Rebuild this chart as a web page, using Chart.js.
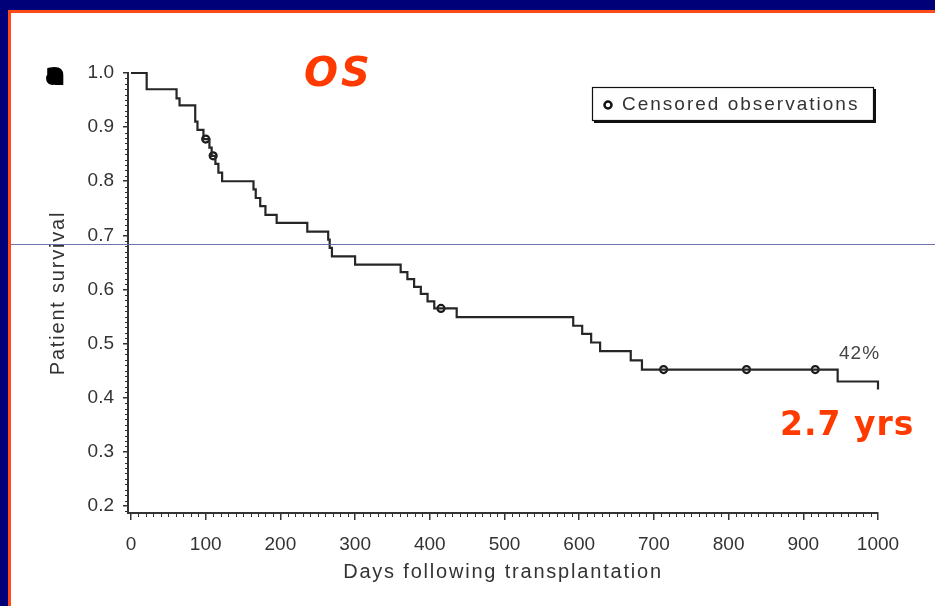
<!DOCTYPE html>
<html>
<head>
<meta charset="utf-8">
<script src="https://cdn.jsdelivr.net/npm/chart.js@4.4.1/dist/chart.umd.min.js"></script>
<style>
html, body { margin: 0; padding: 0; background: #fff; }
#wrap { position: relative; width: 935px; height: 606px; overflow: hidden; }
</style>
</head>
<body>
<div id="wrap"><canvas id="osChart" width="935" height="606"></canvas></div>
<script>
// Kaplan-Meier overall survival: day of each event and survival right after it
const eventDays = [0, 21, 61, 65, 86, 89, 97, 105, 108, 113, 117, 122, 164, 167, 173, 180,
  195, 236, 264, 266, 269, 300, 361, 370, 379, 388, 397, 406, 436, 592, 604, 616, 628,
  669, 684, 946, 1000];
const survival = [1.0, 0.970, 0.953, 0.940, 0.910, 0.895, 0.878, 0.862, 0.847, 0.832, 0.816,
  0.800, 0.785, 0.769, 0.754, 0.738, 0.723, 0.707, 0.692, 0.677, 0.661, 0.646, 0.632, 0.619,
  0.605, 0.592, 0.578, 0.565, 0.549, 0.533, 0.518, 0.502, 0.486, 0.469, 0.452, 0.430, 0.415];

// censored patients (marked with open circles)
const censorDays = [100, 110, 415, 713, 824, 916];
const censorSurv = [0.878, 0.847, 0.565, 0.452, 0.452, 0.452];

const xTicks = [0, 100, 200, 300, 400, 500, 600, 700, 800, 900, 1000];
const yTicks = [0.2, 0.3, 0.4, 0.5, 0.6, 0.7, 0.8, 0.9, 1.0];

const FONT = '"Liberation Sans", Arial, Helvetica, sans-serif';
const RED = '#ff3a00';
const INK = '#333';

const slidePlugin = {
  id: 'slide',
  beforeDraw(chart) {
    const c = chart.ctx;
    c.save();
    c.fillStyle = '#fff';
    c.fillRect(0, 0, chart.width, chart.height);
    // slide frame: navy band top and left, thin orange rule inside
    c.fillStyle = '#000078';
    c.fillRect(0, 0, chart.width, 10);
    c.fillRect(0, 0, 8, chart.height);
    c.fillStyle = '#ff4a1a';
    c.fillRect(8, 10, chart.width, 3);
    c.fillRect(8, 10, 3, chart.height);
    c.restore();
  },
  afterDraw(chart) {
    const c = chart.ctx;
    const x = chart.scales.x, y = chart.scales.y;
    const area = chart.chartArea;
    c.save();

    // minor tick marks
    c.strokeStyle = INK;
    c.lineWidth = 1;
    c.beginPath();
    for (let d = 0; d <= 1000; d += 10) {
      if (d % 100 === 0) continue;
      const px = Math.round(x.getPixelForValue(d)) + 0.5;
      c.moveTo(px, area.bottom);
      c.lineTo(px, area.bottom + 4);
    }
    for (let k = 19; k <= 100; k++) {
      if (k % 10 === 0) continue;
      const py = Math.round(y.getPixelForValue(k / 100)) + 0.5;
      c.moveTo(area.left - 3, py);
      c.lineTo(area.left, py);
    }
    c.stroke();

    // axis titles
    c.fillStyle = INK;
    c.font = '20px ' + FONT;
    c.letterSpacing = '1.8px';
    c.textAlign = 'center';
    c.textBaseline = 'middle';
    c.fillText('Days following transplantation', (area.left + area.right) / 2, 572);
    c.save();
    c.translate(58, (area.top + area.bottom) / 2);
    c.rotate(-Math.PI / 2);
    c.fillText('Patient survival', 0, 0);
    c.restore();

    // legend box
    c.fillStyle = '#111';
    c.fillRect(594, 89, 282, 34);
    c.fillStyle = '#fff';
    c.fillRect(592, 87, 281, 33);
    c.strokeStyle = '#111';
    c.lineWidth = 1.2;
    c.strokeRect(592.5, 87.5, 281, 33);
    c.beginPath();
    c.arc(608, 105, 3.5, 0, Math.PI * 2);
    c.fillStyle = '#fff';
    c.fill();
    c.lineWidth = 2.5;
    c.stroke();
    c.fillStyle = INK;
    c.font = '19px ' + FONT;
    c.letterSpacing = '2px';
    c.textAlign = 'left';
    c.fillText('Censored observations', 622, 105);

    // end-of-curve note
    c.fillStyle = '#444';
    c.font = '19px ' + FONT;
    c.letterSpacing = '1px';
    c.fillText('42%', 839, 354);

    // panel letter
    c.letterSpacing = '0px';
    c.font = 'bold 24px "DejaVu Sans", sans-serif';
    c.fillStyle = '#000';
    c.strokeStyle = '#000';
    c.lineWidth = 4;
    c.strokeText('a', 47, 77);
    c.fillText('a', 47, 77);

    // slide annotations
    c.fillStyle = RED;
    c.font = 'italic bold 40px "DejaVu Sans", sans-serif';
    c.letterSpacing = '3px';
    c.fillText('OS', 304, 76);
    c.font = 'bold 33px "DejaVu Sans", sans-serif';
    c.letterSpacing = '1px';
    c.fillText('2.7 yrs', 780, 426);

    // stray rule across the slide
    c.letterSpacing = '0px';
    c.strokeStyle = 'rgba(96, 96, 168, 0.9)';
    c.lineWidth = 1;
    c.beginPath();
    c.moveTo(11, 244.5);
    c.lineTo(chart.width, 244.5);
    c.stroke();
    c.restore();
  }
};

const ctx = document.getElementById('osChart').getContext('2d');
const chart = new Chart(ctx, {
  type: 'line',
  data: {
    datasets: [
      {
        label: 'Patient survival',
        data: eventDays.map((d, i) => ({ x: d, y: survival[i] })),
        stepped: true,
        borderColor: '#262626',
        borderWidth: 2.2,
        pointRadius: 0,
        fill: false,
        clip: 6
      },
      {
        label: 'Censored observations',
        data: censorDays.map((d, i) => ({ x: d, y: censorSurv[i] })),
        showLine: false,
        pointRadius: 3.5,
        pointBorderWidth: 2.2,
        pointBackgroundColor: '#fff',
        pointBorderColor: '#1a1a1a',
        clip: 6
      }
    ]
  },
  options: {
    responsive: false,
    animation: false,
    devicePixelRatio: 1,
    layout: { padding: { top: 73, right: 57, left: 0, bottom: 0 } },
    plugins: {
      legend: { display: false },
      tooltip: { enabled: false }
    },
    scales: {
      x: {
        type: 'linear',
        min: -4,
        max: 1000,
        afterBuildTicks: s => { s.ticks = xTicks.map(v => ({ value: v })); },
        afterFit: s => { s.height = 93; },
        grid: { drawOnChartArea: false, drawTicks: true, tickLength: 7, color: INK, lineWidth: 1.5 },
        border: { display: true, color: INK, width: 2 },
        ticks: {
          font: { family: FONT, size: 19 },
          color: INK,
          padding: 13,
          maxRotation: 0,
          autoSkip: false,
          callback: v => String(v)
        }
      },
      y: {
        type: 'linear',
        min: 0.187,
        max: 1.0,
        afterBuildTicks: s => { s.ticks = yTicks.map(v => ({ value: v })); },
        afterFit: s => { s.width = 128; },
        grid: { drawOnChartArea: false, drawTicks: true, tickLength: 5, color: INK, lineWidth: 1.5 },
        border: { display: true, color: INK, width: 2 },
        ticks: {
          font: { family: FONT, size: 19 },
          color: INK,
          padding: 9,
          autoSkip: false,
          callback: v => v.toFixed(1)
        }
      }
    }
  },
  plugins: [slidePlugin]
});
</script>
</body>
</html>
